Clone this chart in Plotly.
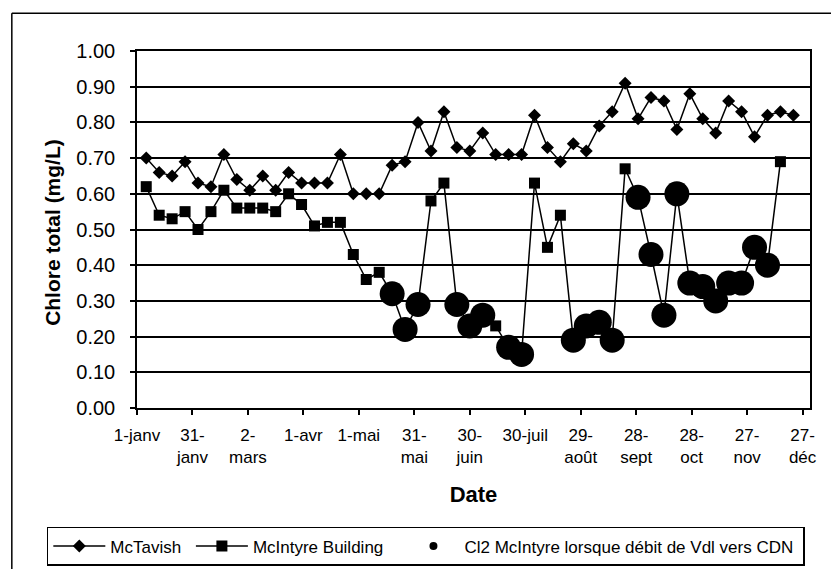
import plotly.graph_objects as go

# weekly sampling dates
dates = [
    "1999-01-06", "1999-01-13", "1999-01-20", "1999-01-27",
    "1999-02-03", "1999-02-10", "1999-02-17", "1999-02-24",
    "1999-03-03", "1999-03-10", "1999-03-17", "1999-03-24", "1999-03-31",
    "1999-04-07", "1999-04-14", "1999-04-21", "1999-04-28",
    "1999-05-05", "1999-05-12", "1999-05-19", "1999-05-26",
    "1999-06-02", "1999-06-09", "1999-06-16", "1999-06-23", "1999-06-30",
    "1999-07-07", "1999-07-14", "1999-07-21", "1999-07-28",
    "1999-08-04", "1999-08-11", "1999-08-18", "1999-08-25",
    "1999-09-01", "1999-09-08", "1999-09-15", "1999-09-22", "1999-09-29",
    "1999-10-06", "1999-10-13", "1999-10-20", "1999-10-27",
    "1999-11-03", "1999-11-10", "1999-11-17", "1999-11-24",
    "1999-12-01", "1999-12-08", "1999-12-15", "1999-12-22",
]

mctavish = [
    0.70, 0.66, 0.65, 0.69, 0.63, 0.62, 0.71, 0.64, 0.61, 0.65,
    0.61, 0.66, 0.63, 0.63, 0.63, 0.71, 0.60, 0.60, 0.60, 0.68,
    0.69, 0.80, 0.72, 0.83, 0.73, 0.72, 0.77, 0.71, 0.71, 0.71,
    0.82, 0.73, 0.69, 0.74, 0.72, 0.79, 0.83, 0.91, 0.81, 0.87,
    0.86, 0.78, 0.88, 0.81, 0.77, 0.86, 0.83, 0.76, 0.82, 0.83,
    0.82,
]

mcintyre = [
    0.62, 0.54, 0.53, 0.55, 0.50, 0.55, 0.61, 0.56, 0.56, 0.56,
    0.55, 0.60, 0.57, 0.51, 0.52, 0.52, 0.43, 0.36, 0.38, 0.32,
    0.22, 0.29, 0.58, 0.63, 0.29, 0.23, 0.26, 0.23, 0.17, 0.15,
    0.63, 0.45, 0.54, 0.19, 0.23, 0.24, 0.19, 0.67, 0.59, 0.43,
    0.26, 0.60, 0.35, 0.34, 0.30, 0.35, 0.35, 0.45, 0.40, 0.69,
    None,
]

# weeks when Vdl water was sent to CDN (circled points)
vdl_flags = [
    0, 0, 0, 0, 0, 0, 0, 0, 0, 0,
    0, 0, 0, 0, 0, 0, 0, 0, 0, 1,
    1, 1, 0, 0, 1, 1, 1, 0, 1, 1,
    0, 0, 0, 1, 1, 1, 1, 0, 1, 1,
    1, 1, 1, 1, 1, 1, 1, 1, 1, 0,
    0,
]
cl2_vdl = [v if f else None for v, f in zip(mcintyre, vdl_flags)]

tick_dates = [
    "1999-01-01", "1999-01-31", "1999-03-02", "1999-04-01", "1999-05-01",
    "1999-05-31", "1999-06-30", "1999-07-30", "1999-08-29", "1999-09-28",
    "1999-10-28", "1999-11-27", "1999-12-27",
]
tick_text = [
    "1-janv", "31-<br>janv", "2-<br>mars", "1-avr", "1-mai",
    "31-<br>mai", "30-<br>juin", "30-juil", "29-<br>août", "28-<br>sept",
    "28-<br>oct", "27-<br>nov", "27-<br>déc",
]

FONT = "Liberation Sans, Arial, sans-serif"
NB = "\u00a0"  # a little extra room after legend labels

fig = go.Figure()
fig.add_trace(go.Scatter(
    x=dates, y=mctavish, name="McTavish" + NB, mode="lines+markers",
    line=dict(color="black", width=1.5),
    marker=dict(symbol="diamond", size=10, color="black"),
))
fig.add_trace(go.Scatter(
    x=dates, y=mcintyre, name="McIntyre Building" + NB * 3, mode="lines+markers",
    line=dict(color="black", width=1.5),
    marker=dict(symbol="square", size=11, color="black"),
))
fig.add_trace(go.Scatter(
    x=dates, y=cl2_vdl, mode="markers", showlegend=False,
    marker=dict(symbol="circle", size=25, color="black"),
))
# legend entry with a small dot, like the original
fig.add_trace(go.Scatter(
    x=[None], y=[None], mode="markers",
    name="Cl2 McIntyre lorsque débit de Vdl vers CDN" + NB,
    marker=dict(symbol="circle", size=8, color="black"),
))

# page body has an 8px margin, so the figure is a bit smaller than the window
fig.update_layout(
    width=831, height=561,
    margin=dict(l=129, r=29, t=43, b=161, autoexpand=False),
    paper_bgcolor="white", plot_bgcolor="white",
    font=dict(family=FONT, color="black", size=18),
    showlegend=True,
    legend=dict(
        orientation="h", x=-0.134, xanchor="left", y=-0.333, yanchor="top",
        bordercolor="black", borderwidth=1.5, font=dict(size=17),
        itemwidth=52, traceorder="normal",
    ),
)

fig.update_xaxes(
    range=["1999-01-01", "1999-12-31"],
    tickvals=tick_dates, ticktext=tick_text,
    tickfont=dict(size=17), ticks="outside", ticklen=5, tickwidth=1.5,
    tickcolor="black", ticklabelstandoff=6,
    showline=True, linecolor="black", linewidth=1.5, mirror=True,
    showgrid=False, zeroline=False,
    title=dict(text="<b>Date</b>", font=dict(size=22), standoff=20),
)
fig.update_yaxes(
    range=[0, 1.0], dtick=0.1, tickformat=".2f",
    tickfont=dict(size=20), ticks="outside", ticklen=5, tickwidth=1.5,
    tickcolor="black", ticklabelstandoff=11,
    showline=True, linecolor="black", linewidth=1.5, mirror=True,
    showgrid=True, gridcolor="black", gridwidth=1.5, zeroline=False,
)

# y title placed by hand, closer to the frame than plotly would put it
fig.add_annotation(
    text="<b>Chlore total (mg/L)</b>", textangle=-90,
    xref="paper", yref="paper", x=-0.125, y=0.493,
    xanchor="center", yanchor="middle", showarrow=False,
    font=dict(size=21),
)

# outer frame of the chart (left and top edges visible in the original)
fig.add_shape(type="line", xref="paper", yref="paper",
              x0=-0.186, x1=-0.186, y0=1.106, y1=-0.47,
              line=dict(color="black", width=1.5))
fig.add_shape(type="line", xref="paper", yref="paper",
              x0=-0.186, x1=1.06, y0=1.106, y1=1.106,
              line=dict(color="black", width=1.5))

fig.write_html("out.html")
